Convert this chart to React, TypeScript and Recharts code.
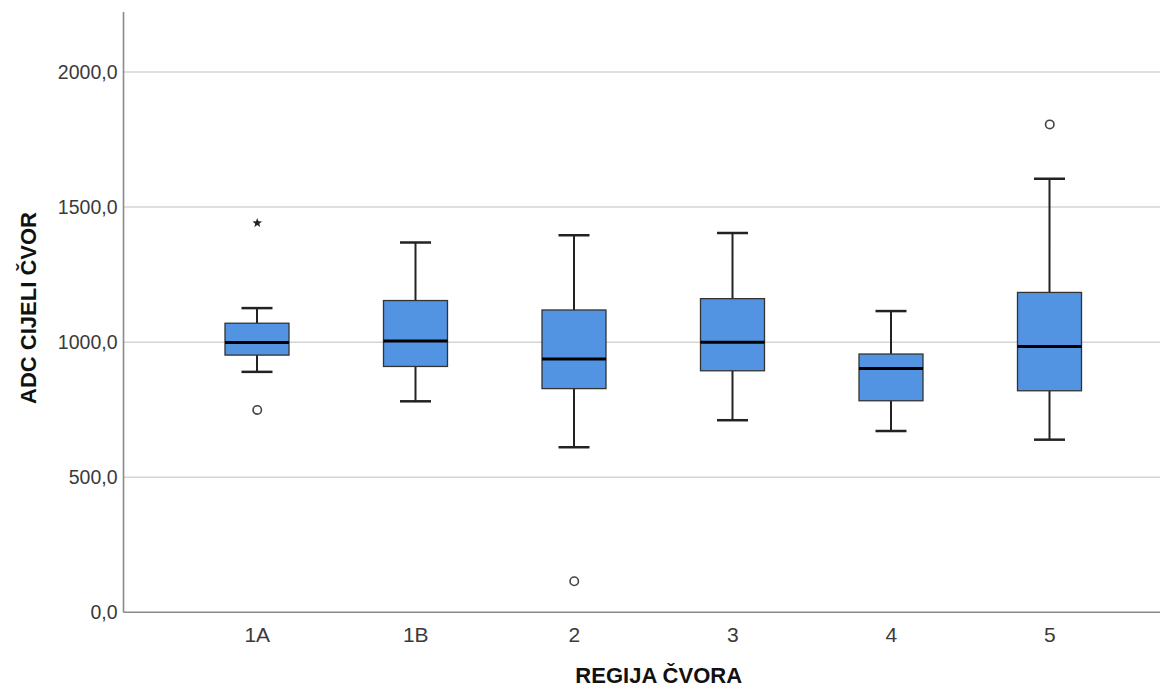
import { ComposedChart, Bar, Scatter, XAxis, YAxis, CartesianGrid } from "recharts";

const regions = ["1A", "1B", "2", "3", "4", "5"];
const whiskerLow = [890, 781, 611, 711, 671, 639];
const q1 = [952, 910, 828, 894, 783, 820];
const median = [999, 1004, 938, 1000, 902, 984];
const q3 = [1070, 1154, 1119, 1161, 956, 1184];
const whiskerHigh = [1126, 1369, 1396, 1404, 1115, 1605];
const outliers: (number | null)[] = [749, null, 115, null, null, 1806];
const extremes: (number | null)[] = [1441, null, null, null, null, null];
const yTicks = [0, 500, 1000, 1500, 2000];
const Y_MAX = 2222;

const data = regions.map((region, i) => ({
  region,
  low: whiskerLow[i],
  q1: q1[i],
  median: median[i],
  q3: q3[i],
  high: whiskerHigh[i],
  outlier: outliers[i],
  extreme: extremes[i],
}));

const BOX_FILL = "#5294E2";
const TICK_FONT = "'Liberation Sans', Arial, sans-serif";

// Bar covers the whisker range [low, high]; the rest is mapped linearly inside it
const BoxShape = (props: any) => {
  const { x, y, width, height, payload } = props;
  if (payload == null) return null;
  const top = Math.min(y, y + height);
  const bottom = Math.max(y, y + height);
  const k = (bottom - top) / (payload.high - payload.low);
  const yOf = (v: number) => bottom - (v - payload.low) * k;
  const cx = x + width / 2;
  const cap = 31;
  const yQ1 = yOf(payload.q1);
  const yQ3 = yOf(payload.q3);
  const yMed = yOf(payload.median);
  return (
    <g>
      <line x1={cx} x2={cx} y1={top} y2={yQ3} stroke="#222" strokeWidth={2} />
      <line x1={cx} x2={cx} y1={yQ1} y2={bottom} stroke="#222" strokeWidth={2} />
      <line x1={cx - cap / 2} x2={cx + cap / 2} y1={top} y2={top} stroke="#222" strokeWidth={2.5} />
      <line x1={cx - cap / 2} x2={cx + cap / 2} y1={bottom} y2={bottom} stroke="#222" strokeWidth={2.5} />
      <rect x={x} y={yQ3} width={width} height={yQ1 - yQ3} fill={BOX_FILL} stroke="#333" strokeWidth={1.3} />
      <line x1={x} x2={x + width} y1={yMed} y2={yMed} stroke="#000" strokeWidth={3} />
    </g>
  );
};

const OutlierShape = (props: any) => {
  const { cx, cy, payload } = props;
  if (payload?.outlier == null || cy == null || isNaN(cy)) return <g />;
  return <circle cx={cx} cy={cy} r={4.2} fill="#fff" stroke="#444" strokeWidth={1.6} />;
};

// SPSS marks extreme values with a small five-pointed star
const ExtremeShape = (props: any) => {
  const { cx, cy, payload } = props;
  if (payload?.extreme == null || cy == null || isNaN(cy)) return <g />;
  const pts: string[] = [];
  for (let i = 0; i < 10; i++) {
    const r = i % 2 === 0 ? 5 : 2.1;
    const a = -Math.PI / 2 + (i * Math.PI) / 5;
    pts.push(`${cx + r * Math.cos(a)},${cy + r * Math.sin(a)}`);
  }
  return <polygon points={pts.join(" ")} fill="#222" />;
};

export default function App() {
  return (
    <ComposedChart
      width={1160}
      height={681}
      data={data}
      margin={{ top: 4, right: 0, bottom: 0, left: 0 }}
    >
      <CartesianGrid
        vertical={false}
        stroke="#d4d4d4"
        strokeWidth={1.5}
        horizontalCoordinatesGenerator={({ offset }: any) =>
          yTicks
            .filter((t) => t > 0)
            .map((t) => offset.top + offset.height * (1 - t / Y_MAX))
        }
      />
      <XAxis
        dataKey="region"
        type="category"
        height={76.7}
        padding={{ left: 54.5, right: 39 }}
        tickLine={false}
        tickMargin={9}
        axisLine={{ stroke: "#8a8a8a", strokeWidth: 1.6 }}
        tick={{ fontSize: 21, fill: "#3a3a3a", fontFamily: TICK_FONT }}
        label={{
          content: () => (
            <text x={650.7} y={675} textAnchor="middle" fontSize={22} fontWeight={700} fill="#111" fontFamily={TICK_FONT}>
              REGIJA ČVORA
            </text>
          ),
        }}
      />
      <YAxis
        type="number"
        width={115.5}
        domain={[0, Y_MAX]}
        ticks={yTicks}
        allowDataOverflow
        tickLine={false}
        tickMargin={0}
        axisLine={{ stroke: "#8a8a8a", strokeWidth: 1.6 }}
        tick={{ fontSize: 19.5, fill: "#3a3a3a", fontFamily: TICK_FONT }}
        tickFormatter={(v: number) => v.toFixed(1).replace(".", ",")}
        label={{
          content: () => (
            <text
              x={19.5}
              y={300}
              dy={8}
              transform="rotate(-90 19.5 300)"
              textAnchor="middle"
              fontSize={22}
              fontWeight={700}
              fill="#111"
              fontFamily={TICK_FONT}
            >
              ADC CIJELI ČVOR
            </text>
          ),
        }}
      />
      <Bar
        dataKey={(d: any) => [d.low, d.high]}
        barSize={64}
        shape={<BoxShape />}
        isAnimationActive={false}
      />
      <Scatter dataKey="outlier" shape={<OutlierShape />} isAnimationActive={false} />
      <Scatter dataKey="extreme" shape={<ExtremeShape />} isAnimationActive={false} />
    </ComposedChart>
  );
}
